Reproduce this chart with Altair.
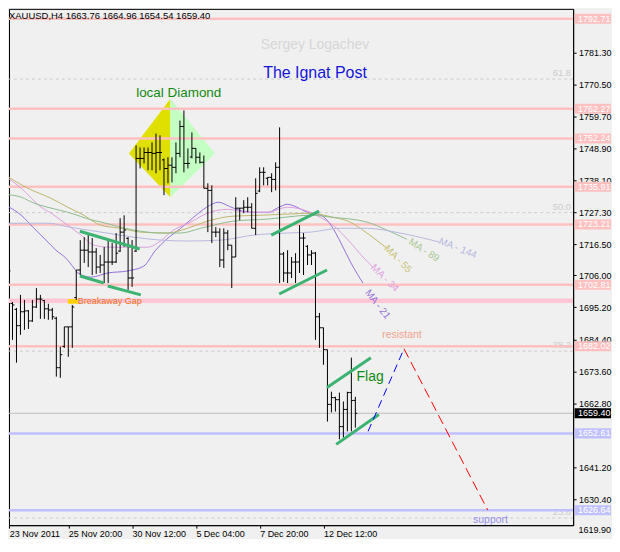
import altair as alt
import pandas as pd

F = "Liberation Sans"

# ---------------- OHLC bars (H4) ----------------
opens = [1708.5, 1707.8, 1696.5, 1694.5, 1689.0, 1693.7, 1694.0, 1690.6, 1695.3, 1698.0,
         1697.5, 1694.7, 1694.3, 1691.5, 1674.8, 1682.0, 1688.6, 1688.6, 1698.5, 1707.8,
         1714.5, 1714.5, 1713.9, 1713.9, 1708.8, 1709.5, 1710.5, 1710.5, 1710.5, 1714.2,
         1720.6, 1718.5, 1705.1, 1714.2, 1745.5, 1745.5, 1747.5, 1747.5, 1747.2, 1747.5,
         1745.0, 1742.1, 1743.2, 1742.5, 1747.2, 1756.3, 1743.8, 1746.0, 1748.9, 1745.9,
         1744.2, 1735.4, 1734.7, 1720.6, 1720.6, 1711.2, 1720.3, 1716.2, 1712.2, 1728.7,
         1728.7, 1729.0, 1729.0, 1721.9, 1734.5, 1740.8, 1738.8, 1739.1, 1738.4, 1742.5,
         1713.2, 1706.8, 1706.8, 1710.5, 1710.5, 1718.6, 1715.8, 1712.9, 1713.5, 1692.0,
         1688.3, 1680.9, 1662.4, 1664.7, 1664.0, 1654.9, 1660.7, 1666.4, 1663.76]
highs = [1709.5, 1709.8, 1697.0, 1695.0, 1699.4, 1697.7, 1694.3, 1697.7, 1701.7, 1699.4,
         1697.7, 1696.4, 1695.0, 1692.0, 1681.9, 1688.6, 1688.6, 1696.0, 1707.8, 1717.9,
         1718.9, 1720.3, 1718.6, 1715.2, 1712.9, 1715.6, 1717.9, 1716.9, 1720.3, 1725.3,
         1726.3, 1718.9, 1717.9, 1749.9, 1749.2, 1749.2, 1749.2, 1750.9, 1753.9, 1753.3,
         1745.5, 1745.9, 1745.9, 1750.9, 1758.3, 1761.7, 1748.9, 1754.3, 1748.9, 1747.5,
         1746.5, 1737.1, 1736.4, 1722.3, 1721.9, 1721.9, 1721.3, 1716.2, 1732.4, 1728.7,
         1731.4, 1732.4, 1730.4, 1738.8, 1742.5, 1742.5, 1739.1, 1740.5, 1744.2, 1756.0,
         1713.9, 1714.5, 1712.2, 1713.5, 1723.0, 1720.3, 1716.2, 1714.5, 1713.9, 1693.3,
         1688.3, 1680.9, 1666.7, 1665.0, 1666.4, 1663.4, 1666.7, 1678.2, 1664.96]
lows = [1697.7, 1697.7, 1684.2, 1676.5, 1685.9, 1687.6, 1687.9, 1690.3, 1695.0, 1691.3,
        1691.3, 1691.0, 1691.0, 1671.8, 1671.4, 1681.5, 1678.5, 1681.5, 1697.7, 1706.1,
        1710.2, 1708.8, 1706.1, 1706.5, 1706.8, 1703.4, 1703.4, 1709.5, 1710.2, 1713.9,
        1715.6, 1701.1, 1702.1, 1713.9, 1742.1, 1743.8, 1741.5, 1741.5, 1740.5, 1741.5,
        1733.1, 1737.1, 1737.4, 1740.5, 1745.9, 1740.8, 1742.1, 1745.5, 1743.8, 1743.8,
        1735.4, 1720.6, 1716.9, 1718.9, 1708.8, 1708.5, 1714.5, 1701.7, 1712.2, 1724.6,
        1727.0, 1727.3, 1721.9, 1719.6, 1734.1, 1736.4, 1736.4, 1734.1, 1734.7, 1703.4,
        1703.8, 1703.4, 1705.1, 1703.4, 1706.8, 1706.1, 1709.5, 1709.5, 1684.2, 1681.5,
        1675.8, 1656.6, 1659.7, 1660.0, 1650.6, 1651.2, 1653.3, 1653.3, 1654.54]
closes = [1707.8, 1707.5, 1696.0, 1689.0, 1693.7, 1694.0, 1690.6, 1695.3, 1698.0, 1698.0,
          1694.7, 1694.3, 1692.0, 1674.8, 1679.2, 1688.6, 1688.6, 1695.3, 1707.8, 1714.5,
          1714.5, 1713.9, 1713.9, 1708.8, 1709.5, 1710.5, 1710.5, 1710.5, 1713.5, 1720.6,
          1721.3, 1705.1, 1705.1, 1745.5, 1745.5, 1747.5, 1747.5, 1747.2, 1747.5, 1747.5,
          1742.1, 1743.2, 1742.5, 1747.2, 1756.3, 1743.8, 1743.8, 1748.9, 1745.9, 1744.2,
          1735.4, 1734.7, 1720.6, 1720.6, 1711.2, 1720.3, 1716.2, 1712.2, 1728.7, 1728.7,
          1729.0, 1729.0, 1721.9, 1733.7, 1740.8, 1740.8, 1739.1, 1738.4, 1742.5, 1713.2,
          1706.8, 1706.8, 1710.5, 1710.5, 1718.6, 1718.6, 1712.9, 1713.5, 1692.0, 1688.3,
          1680.9, 1662.4, 1664.7, 1664.0, 1654.9, 1660.7, 1666.4, 1663.7, 1659.40]

# ---------------- axes ----------------
x_tick_pos = [1.2, 16, 32, 48, 64, 80]
x_tick_lab = ["23 Nov 2011", "25 Nov 20:00", "30 Nov 12:00", "5 Dec 04:00", "7 Dec 20:00", "12 Dec 12:00"]
y_ticks = [1781.30, 1770.50, 1759.70, 1748.90, 1738.10, 1727.30, 1716.50, 1706.00,
           1695.20, 1684.40, 1673.60, 1662.80, 1641.20, 1630.40]
y_bottom_label = [1619.90]

# ---------------- levels ----------------
res_levels = [1792.71, 1762.27, 1752.24, 1735.91, 1723.21, 1702.81, 1682.02]
sup_levels = [1652.61, 1626.64]
gap_level = [1697.4]
last_price = [1659.40]
fib_levels = [1772.3, 1727.2, 1680.4, 1624.0]
fib_names = ["61.8", "50.0", "38.2", "23.6"]

# ---------------- moving averages ----------------
ma_names = ["MA-21", "MA-34", "MA-55", "MA-89", "MA-144"]
ma_colors = ["#9370DB", "#DDA0DD", "#BDB76B", "#8FBC8F", "#B8B8E0"]
ma21_i = [-0.1, 4.2, 7.4, 10.4, 12.9, 15.4, 17.4, 18.4, 21.7, 25.9, 30.9, 34.9, 37.9, 40.4, 44.2,
          47.4, 50.7, 53.7, 56.4, 58.9, 62.4, 66.2, 68.4, 70.9, 73.4, 75.9, 79.4, 81.9, 84.4, 86.9, 89.9]
ma21_p = [1730.0, 1726.3, 1721.9, 1717.9, 1714.5, 1711.8, 1708.5, 1706.8, 1705.4, 1706.8, 1707.5,
          1709.1, 1714.5, 1717.9, 1721.9, 1725.6, 1729.0, 1730.7, 1729.3, 1728.0, 1727.3, 1727.3,
          1728.7, 1730.0, 1729.0, 1727.3, 1726.3, 1722.9, 1716.9, 1710.2, 1703.4]
ma34_i = [-0.1, 4.2, 9.2, 11.7, 15.9, 19.2, 22.4, 26.7, 32.4, 35.9, 38.4, 42.4, 46.7, 50.9, 55.9,
          60.9, 65.9, 70.9, 76.7, 79.2, 82.4, 86.7, 89.9, 92.4]
ma34_p = [1739.8, 1735.4, 1729.0, 1727.0, 1722.9, 1719.6, 1716.2, 1715.5, 1715.5, 1715.5, 1716.9,
          1721.3, 1724.0, 1727.0, 1728.3, 1727.3, 1727.3, 1729.0, 1727.3, 1725.6, 1722.9, 1717.2,
          1712.2, 1708.8]
ma55_i = [-0.1, 5.9, 11.7, 15.9, 19.9, 24.2, 29.2, 34.2, 40.9, 45.9, 50.9, 57.4, 64.2, 70.9, 76.7,
          82.4, 86.7, 90.9, 95.9]
ma55_p = [1740.1, 1735.4, 1732.0, 1729.0, 1726.3, 1722.9, 1721.9, 1720.6, 1720.3, 1721.9, 1724.3,
          1726.0, 1726.3, 1726.7, 1727.0, 1725.6, 1724.0, 1720.3, 1715.2]
ma89_i = [-0.1, 4.2, 7.4, 11.7, 15.9, 22.2, 24.2, 32.4, 39.2, 44.2, 49.2, 57.4, 65.9, 76.7, 82.4,
          90.9, 95.9, 100.9]
ma89_p = [1733.4, 1732.4, 1730.4, 1728.7, 1727.3, 1724.6, 1724.0, 1721.3, 1720.3, 1720.3, 1721.9,
          1724.3, 1725.0, 1726.3, 1725.6, 1724.0, 1721.3, 1718.2]
ma144_i = [-0.1, 11.7, 13.7, 24.2, 32.4, 39.2, 45.9, 54.2, 62.4, 70.9, 76.7, 84.2, 90.9, 99.2, 109.2]
ma144_p = [1723.6, 1723.6, 1723.0, 1720.6, 1718.9, 1717.9, 1717.6, 1717.9, 1719.6, 1720.3, 1720.6,
           1721.9, 1721.9, 1720.3, 1717.2]

# ---------------- drawn objects ----------------
trend_i1 = [18.9, 18.9, 25.9, 66.9, 68.9, 80.9, 83.2]
trend_p1 = [1720.9, 1705.8, 1702.4, 1719.6, 1699.7, 1668.1, 1648.9]
trend_i2 = [33.9, 24.9, 34.2, 78.9, 80.9, 91.9, 93.9]
trend_p2 = [1714.9, 1703.4, 1699.4, 1727.7, 1707.8, 1678.2, 1659.0]

proj_i = [91.2, 100.2, 121.2]
proj_p = [1653.3, 1681.2, 1626.7]

dia_i = [31.2, 41.6, 52.8]
dia_top = [1747.2, 1765.7, 1747.2]
dia_bot = [1747.2, 1732.4, 1747.2]

gap_box_i = [15.9, 18.4]
gap_box_p = [1698.0, 1696.4]

ann_text = ["local Diamond", "Flag", "resistant", "support",
            "MA - 21", "MA - 34", "MA - 55", "MA - 89", "MA - 144"]
ann_i = [43.7, 91.7, 99.7, 121.9, 93.6, 95.4, 98.7, 105.2, 113.7]
ann_p = [1767.7, 1671.8, 1685.9, 1623.3, 1696.2, 1705.1, 1711.5, 1714.5, 1715.2]
ann_color = ["#118a11", "#118a11", "#f0a48c", "#9890e8",
             "#9370DB", "#e0a0e0", "#c8c070", "#a8c890", "#b8b8e0"]
ann_size = [13.5, 14, 10.5, 10.5, 10, 10, 10, 10, 10]
ann_angle = [0, 0, 0, 0, 52, 45, 45, 33, 22]

header = "XAUUSD,H4  1663.76 1664.96 1654.54 1659.40"

# ---------------- scales ----------------
PLOT_W, PLOT_H = 566, 518
xs = alt.Scale(domain=[1.125, 1.125 + PLOT_W / 4], nice=False, zero=False)
ys = alt.Scale(domain=[1621.61, 1796.02], nice=False, zero=False)

expr = "''"
for p, l in reversed(list(zip(x_tick_pos, x_tick_lab))):
    expr = f"abs(datum.value - {p}) < 1 ? '{l}' : ({expr})"

xax = alt.Axis(values=x_tick_pos, labelExpr=expr, title=None, grid=False, labelAlign="left",
               labelFlush=False, labelOverlap=False, tickSize=3, labelPadding=1,
               labelFontSize=9, labelFont=F, labelColor="black", domainColor="black",
               tickColor="black", labelBaseline="top")
yax = alt.Axis(orient="right", values=y_ticks, format=".2f", title=None, grid=False, tickSize=3,
               labelPadding=2.5, labelFontSize=9, labelFont=F, labelColor="black",
               labelOverlap=False, labelFlush=False, domainColor="black", tickColor="black")


def X(f):
    return alt.X(f"{f}:Q", scale=xs, axis=xax)


def Y(f):
    return alt.Y(f"{f}:Q", scale=ys, axis=yax)


layers = []

# diamond
layers.append(alt.Chart(pd.DataFrame({"i": dia_i[:2], "t": dia_top[:2], "b": dia_bot[:2]}))
              .mark_area(color="#e0e000", clip=True, opacity=1)
              .encode(x=X("i"), y=Y("t"), y2="b:Q"))
layers.append(alt.Chart(pd.DataFrame({"i": dia_i[1:], "t": dia_top[1:], "b": dia_bot[1:]}))
              .mark_area(color="#c4ffc4", clip=True, opacity=1)
              .encode(x=X("i"), y=Y("t"), y2="b:Q"))

# fibonacci dashed
fib_df = pd.DataFrame({"p": fib_levels, "t": fib_names})
layers.append(alt.Chart(fib_df).mark_rule(color="#cccccc", strokeDash=[3, 3], strokeWidth=1, clip=True)
              .encode(y=Y("p")))
layers.append(alt.Chart(fib_df).mark_text(align="right", baseline="bottom", font=F, fontSize=9.5,
                                          color="#cccccc", dy=-1)
              .encode(x=alt.value(PLOT_W - 2), y=Y("p"), text="t:N"))

# levels
layers.append(alt.Chart(pd.DataFrame({"p": res_levels})).mark_rule(color="#ffc0c0", strokeWidth=2.5, clip=True)
              .encode(y=Y("p")))
layers.append(alt.Chart(pd.DataFrame({"p": gap_level})).mark_rule(color="#ffc6d6", strokeWidth=4.5, clip=True)
              .encode(y=Y("p")))
layers.append(alt.Chart(pd.DataFrame({"p": sup_levels})).mark_rule(color="#c0c0ff", strokeWidth=2.5, clip=True)
              .encode(y=Y("p")))
layers.append(alt.Chart(pd.DataFrame({"p": last_price})).mark_rule(color="#c0c0c0", strokeWidth=1, clip=True)
              .encode(y=Y("p")))

# moving averages
rows = []
for name, ii, pp in zip(ma_names, [ma21_i, ma34_i, ma55_i, ma89_i, ma144_i],
                        [ma21_p, ma34_p, ma55_p, ma89_p, ma144_p]):
    for a, b in zip(ii, pp):
        rows.append({"ma": name, "i": a, "p": b})
ma_df = pd.DataFrame(rows)
layers.append(alt.Chart(ma_df).mark_line(strokeWidth=1, clip=True, interpolate="monotone")
              .encode(x=X("i"), y=Y("p"),
                      color=alt.Color("ma:N", scale=alt.Scale(domain=ma_names, range=ma_colors), legend=None),
                      detail="ma:N"))

# breakaway gap marker
layers.append(alt.Chart(pd.DataFrame({"i1": [gap_box_i[0]], "i2": [gap_box_i[1]],
                                      "p1": [gap_box_p[0]], "p2": [gap_box_p[1]]}))
              .mark_rect(color="#ffd200", clip=True)
              .encode(x=X("i1"), x2="i2:Q", y=Y("p1"), y2="p2:Q"))

# OHLC bars
bars = pd.DataFrame({"i": list(range(len(highs))), "o": opens, "h": highs, "l": lows, "c": closes})
layers.append(alt.Chart(bars).mark_rule(color="black", strokeWidth=1, clip=True)
              .encode(x=X("i"), y=Y("h"), y2="l:Q"))
layers.append(alt.Chart(bars).transform_calculate(a="datum.i - 0.5")
              .mark_rule(color="black", strokeWidth=1, clip=True)
              .encode(x=X("a"), x2="i:Q", y=Y("o")))
layers.append(alt.Chart(bars).transform_calculate(b="datum.i + 0.5")
              .mark_rule(color="black", strokeWidth=1, clip=True)
              .encode(x=X("i"), x2="b:Q", y=Y("c")))

# trend lines
tr_df = pd.DataFrame({"i1": trend_i1, "p1": trend_p1, "i2": trend_i2, "p2": trend_p2})
layers.append(alt.Chart(tr_df).mark_rule(color="#3CB371", strokeWidth=3, clip=True)
              .encode(x=X("i1"), y=Y("p1"), x2="i2:Q", y2="p2:Q"))

# projection
layers.append(alt.Chart(pd.DataFrame({"i1": [proj_i[0]], "p1": [proj_p[0]], "i2": [proj_i[1]], "p2": [proj_p[1]]}))
              .mark_rule(color="#0000ff", strokeWidth=1, strokeDash=[8, 5], clip=True)
              .encode(x=X("i1"), y=Y("p1"), x2="i2:Q", y2="p2:Q"))
layers.append(alt.Chart(pd.DataFrame({"i1": [proj_i[1]], "p1": [proj_p[1]], "i2": [proj_i[2]], "p2": [proj_p[2]]}))
              .mark_rule(color="#ff0000", strokeWidth=1, strokeDash=[10, 5], clip=True)
              .encode(x=X("i1"), y=Y("p1"), x2="i2:Q", y2="p2:Q"))

# annotation texts
for t, i, p, c, s, a in zip(ann_text, ann_i, ann_p, ann_color, ann_size, ann_angle):
    layers.append(alt.Chart(pd.DataFrame({"i": [i], "p": [p], "t": [t]}))
                  .mark_text(font=F, fontSize=s, color=c, angle=a, align="center", baseline="middle")
                  .encode(x=X("i"), y=Y("p"), text="t:N"))
layers.append(alt.Chart(pd.DataFrame({"i": [gap_box_i[1]], "p": [sum(gap_box_p) / 2], "t": ["Breakaway Gap"]}))
              .mark_text(font=F, fontSize=9, color="#f07020", align="left", baseline="middle")
              .encode(x=X("i"), y=Y("p"), text="t:N"))

# header texts
layers.append(alt.Chart(pd.DataFrame({"t": [header]}))
              .mark_text(font=F, fontSize=9.5, color="black", align="left", baseline="top")
              .encode(x=alt.value(0), y=alt.value(2), text="t:N"))
layers.append(alt.Chart(pd.DataFrame({"t": ["Sergey Logachev"]}))
              .mark_text(font=F, fontSize=14, color="#d6d6d6", align="center", baseline="middle")
              .encode(x=alt.value(307), y=alt.value(36), text="t:N"))
layers.append(alt.Chart(pd.DataFrame({"t": ["The Ignat Post"]}))
              .mark_text(font=F, fontSize=16, color="#1414dc", align="center", baseline="middle")
              .encode(x=alt.value(307), y=alt.value(64), text="t:N"))

# bottom price label (below the visible range)
layers.append(alt.Chart(pd.DataFrame({"p": y_bottom_label}))
              .mark_text(font=F, fontSize=9, color="black", align="left", baseline="middle")
              .encode(x=alt.value(PLOT_W + 5.5), y=Y("p"), text=alt.Text("p:Q", format=".2f")))

# right price boxes
box_df = pd.DataFrame({
    "p": res_levels + sup_levels + last_price,
    "fill": ["#ffc0c0"] * len(res_levels) + ["#c0c0ff"] * len(sup_levels) + ["#000000"],
})
layers.append(alt.Chart(box_df).transform_calculate(top="datum.p + 1.7", bot="datum.p - 1.7")
              .mark_rect()
              .encode(x=alt.value(PLOT_W + 1.5), x2=alt.value(PLOT_W + 38), y=Y("top"), y2="bot:Q",
                      color=alt.Color("fill:N", scale=None)))
layers.append(alt.Chart(box_df).mark_text(font=F, fontSize=9, color="white", align="left", baseline="middle")
              .encode(x=alt.value(PLOT_W + 5), y=Y("p"), text=alt.Text("p:Q", format=".2f")))

chart = (alt.layer(*layers)
         .properties(width=PLOT_W, height=PLOT_H, padding=0, background="#f0f0f0")
         .configure_view(stroke="black", strokeWidth=1))

chart.save("out.html", embed_options={"renderer": "svg", "actions": False})
